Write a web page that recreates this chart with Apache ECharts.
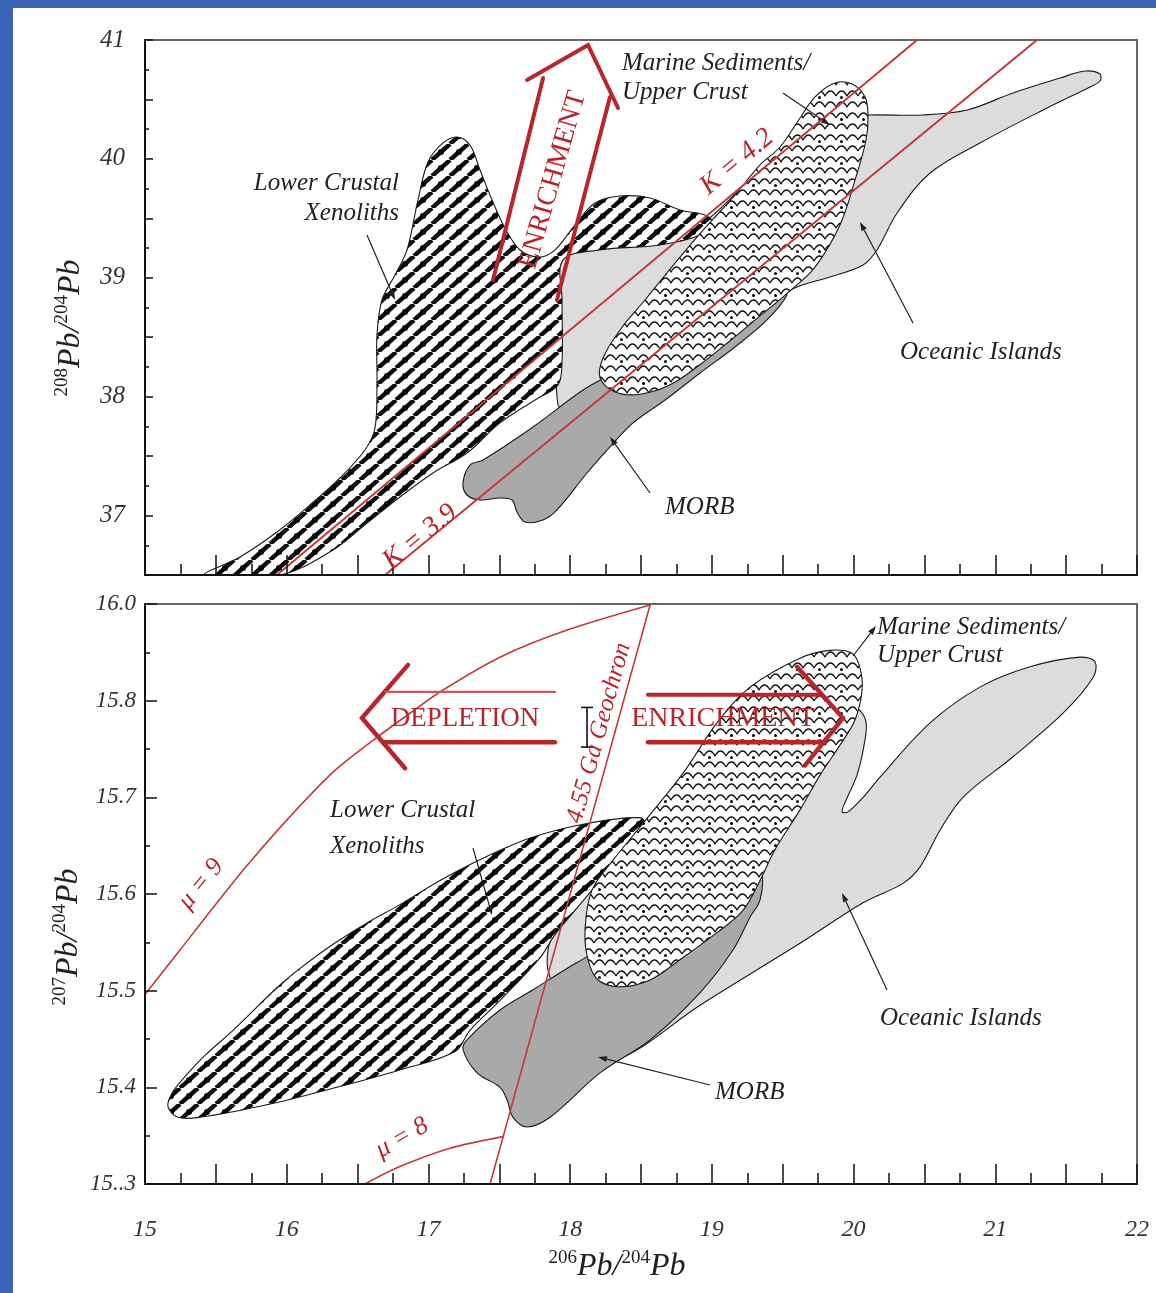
<!DOCTYPE html>
<html>
<head>
<meta charset="utf-8">
<script src="https://cdn.jsdelivr.net/npm/echarts/dist/echarts.min.js"></script>
<style>
  html, body { margin: 0; padding: 0; background: #fff; }
  #chart { width: 1156px; height: 1293px; }
</style>
</head>
<body>
<div id="chart"></div>
<script>
// ---------- tick labels ----------
const xTickLabels = ['15', '16', '17', '18', '19', '20', '21', '22'];
const yTickLabels208 = ['37', '38', '39', '40', '41'];
const yTickLabels207 = ['15..3', '15.4', '15.5', '15.6', '15.7', '15.8', '16.0'];

// ---------- 208Pb/204Pb vs 206Pb/204Pb fields ----------
const lcx208 = [
  [15.423, 36.500], [15.670, 36.651], [15.931, 36.862], [16.164, 37.089], [16.376, 37.316],
  [16.552, 37.551], [16.623, 37.737], [16.637, 38.140], [16.637, 38.519], [16.672, 38.813],
  [16.764, 39.023], [16.849, 39.234], [16.926, 39.654], [16.997, 39.974], [17.103, 40.134],
  [17.202, 40.184], [17.293, 40.117], [17.364, 39.907], [17.449, 39.654], [17.540, 39.419],
  [17.646, 39.234], [17.787, 39.175], [17.893, 39.234], [18.034, 39.444], [18.175, 39.629],
  [18.352, 39.688], [18.564, 39.671], [18.775, 39.570], [18.952, 39.528], [19.001, 39.469],
  [18.917, 39.360], [18.634, 39.276], [18.211, 39.234], [17.950, 39.150], [17.943, 38.813],
  [17.943, 38.308], [17.914, 38.098], [17.752, 37.972], [17.505, 37.779], [17.272, 37.526],
  [17.032, 37.358], [16.799, 37.156], [16.567, 36.937], [16.327, 36.710], [15.953, 36.500]
];
const sed208 = [
  [18.211, 38.157], [18.232, 38.325], [18.352, 38.561], [18.528, 38.813], [18.740, 39.124],
  [18.952, 39.419], [19.163, 39.696], [19.340, 39.949], [19.481, 40.100], [19.622, 40.344],
  [19.728, 40.521], [19.869, 40.638], [19.989, 40.630], [20.081, 40.521], [20.102, 40.369],
  [20.088, 40.159], [20.010, 39.822], [19.904, 39.444], [19.728, 39.090], [19.552, 38.890],
  [19.340, 38.680], [19.128, 38.470], [18.917, 38.270], [18.705, 38.100], [18.493, 38.020],
  [18.317, 38.039]
];
const morb208 = [
  [17.244, 37.274], [17.293, 37.425], [17.385, 37.467], [17.738, 37.745], [18.091, 38.056],
  [18.303, 38.199], [18.564, 38.393], [18.917, 38.578], [19.199, 38.729], [19.410, 38.855],
  [19.495, 38.906], [19.530, 38.855], [19.389, 38.645], [19.163, 38.418], [18.917, 38.199],
  [18.670, 37.972], [18.444, 37.779], [18.281, 37.577], [18.119, 37.358], [17.907, 37.047],
  [17.809, 36.963], [17.682, 36.946], [17.625, 37.030], [17.590, 37.131], [17.505, 37.148],
  [17.364, 37.131], [17.272, 37.173]
];
const oib208 = [
  [17.950, 39.166], [18.211, 39.259], [18.564, 39.301], [18.917, 39.444], [19.340, 39.907],
  [19.834, 40.344], [20.102, 40.369], [20.490, 40.369], [20.801, 40.411], [21.125, 40.554],
  [21.457, 40.680], [21.633, 40.739], [21.739, 40.714], [21.739, 40.655], [21.669, 40.605],
  [21.365, 40.428], [20.892, 40.134], [20.540, 39.881], [20.307, 39.545], [20.165, 39.234],
  [20.067, 39.108], [19.834, 39.007], [19.601, 38.922], [19.340, 38.754], [18.917, 38.494],
  [18.493, 38.241], [18.211, 38.073], [18.034, 37.972], [17.914, 37.930], [17.928, 38.813]
];
// Th/U reference lines (kappa)
const kappa42 = [[15.931, 36.5], [20.448, 41.0]];
const kappa39 = [[16.694, 36.5], [21.294, 41.0]];
// enrichment arrow
const enrich208Left = [[17.456, 38.981], [17.809, 40.680]];
const enrich208Head = [[17.696, 40.664], [18.126, 40.958], [18.338, 40.428]];
const enrich208Right = [[18.281, 40.521], [17.907, 38.813]];

// ---------- 207Pb/204Pb vs 206Pb/204Pb fields ----------
const lcx207 = [
  [15.162, 15.380], [15.191, 15.394], [15.282, 15.411], [15.423, 15.433], [15.621, 15.459],
  [15.931, 15.503], [16.094, 15.523], [16.327, 15.548], [16.567, 15.570], [16.799, 15.589],
  [17.082, 15.614], [17.385, 15.637], [17.717, 15.658], [18.119, 15.673], [18.493, 15.679],
  [18.528, 15.671], [18.387, 15.646], [18.211, 15.614], [18.034, 15.583], [17.893, 15.558],
  [17.787, 15.534], [17.505, 15.490], [17.293, 15.459], [17.188, 15.437], [16.799, 15.418],
  [16.327, 15.399], [15.861, 15.382], [15.388, 15.369], [15.233, 15.369]
];
const sed207 = [
  [18.126, 15.532], [18.105, 15.563], [18.154, 15.604], [18.303, 15.635], [18.514, 15.673],
  [18.797, 15.725], [19.036, 15.777], [19.269, 15.814], [19.622, 15.844], [19.834, 15.852],
  [19.989, 15.849], [20.045, 15.834], [20.060, 15.811], [20.010, 15.780], [19.904, 15.754],
  [19.763, 15.723], [19.622, 15.687], [19.446, 15.646], [19.340, 15.614], [19.220, 15.583],
  [19.036, 15.560], [18.775, 15.532], [18.564, 15.511], [18.352, 15.504], [18.197, 15.511]
];
const morb207 = [
  [17.244, 15.439], [17.272, 15.449], [17.505, 15.480], [17.738, 15.501], [17.978, 15.523],
  [18.140, 15.537], [18.352, 15.558], [18.917, 15.594], [19.305, 15.627], [19.354, 15.623],
  [19.340, 15.594], [19.269, 15.576], [19.149, 15.542], [18.917, 15.498], [18.564, 15.449],
  [18.211, 15.415], [17.858, 15.369], [17.696, 15.359], [17.597, 15.369], [17.555, 15.387],
  [17.505, 15.400], [17.343, 15.415]
];
const oib207 = [
  [17.844, 15.542], [17.893, 15.568], [18.070, 15.599], [18.352, 15.635], [18.917, 15.697],
  [19.552, 15.739], [19.834, 15.757], [19.961, 15.784], [20.031, 15.791], [20.088, 15.778],
  [20.074, 15.754], [20.024, 15.723], [19.947, 15.697], [19.918, 15.685], [19.961, 15.685],
  [20.067, 15.700], [20.187, 15.721], [20.540, 15.777], [20.892, 15.814], [21.245, 15.835],
  [21.598, 15.845], [21.704, 15.840], [21.690, 15.824], [21.478, 15.787], [21.125, 15.742],
  [20.772, 15.700], [20.610, 15.666], [20.469, 15.628], [20.349, 15.611], [20.067, 15.591],
  [19.622, 15.549], [18.917, 15.485], [18.352, 15.430], [18.211, 15.444], [17.928, 15.490],
  [17.844, 15.521]
];
// growth curves and geochron
const mu9 = [
  [15.000, 15.496], [15.247, 15.542], [15.508, 15.591], [15.741, 15.633], [16.023, 15.680],
  [16.327, 15.726], [16.609, 15.759], [16.870, 15.787], [17.103, 15.811], [17.505, 15.845],
  [17.978, 15.873], [18.564, 15.899]
];
const mu8 = [[16.552, 15.300], [16.799, 15.318], [17.152, 15.337], [17.526, 15.349]];
const geochron = [[18.564, 15.899], [17.435, 15.300]];
// depletion / enrichment arrows
const depletionHead = [[16.856, 15.837], [16.531, 15.782], [16.835, 15.730]];
const depletionUpper = [[16.694, 15.809], [17.893, 15.809]];
const depletionLower = [[16.679, 15.757], [17.893, 15.757]];
const enrich207Head = [[19.601, 15.835], [19.925, 15.782], [19.657, 15.733]];
const enrich207Upper = [[18.549, 15.806], [19.777, 15.806]];
const enrich207Lower = [[18.549, 15.757], [19.791, 15.757]];
// analytical uncertainty bar: [x, yLow, yHigh]
const errorBar207 = [[18.119, 15.752, 15.793]];

// ---------- fill patterns ----------
function hatchPattern() {
  const w = 18, h = 16;
  const c = document.createElement('canvas');
  c.width = w; c.height = h;
  const g = c.getContext('2d');
  g.fillStyle = '#fff'; g.fillRect(0, 0, w, h);
  g.strokeStyle = '#0d0d0d'; g.lineWidth = 4.4;
  for (const k of [-1, 0, 1]) {
    g.beginPath(); g.moveTo(k * w, h); g.lineTo(k * w + w, 0); g.stroke();
  }
  g.fillStyle = '#000';
  g.beginPath(); g.arc(w / 2, h / 2, 3, 0, Math.PI * 2); g.fill();
  return c;
}
function wavePattern() {
  const w = 22, h = 22;
  const c = document.createElement('canvas');
  c.width = w; c.height = h;
  const g = c.getContext('2d');
  g.fillStyle = '#fff'; g.fillRect(0, 0, w, h);
  g.strokeStyle = '#111'; g.lineWidth = 1.3; g.lineJoin = 'round';
  for (const oy of [0, 11]) {
    g.beginPath();
    g.moveTo(0, oy + 8);
    for (let x = 0; x < w; x += 11) {
      g.quadraticCurveTo(x + 2.75, oy + 3, x + 5.5, oy + 3);
      g.quadraticCurveTo(x + 8.25, oy + 3, x + 11, oy + 8);
    }
    g.stroke();
  }
  g.fillStyle = '#000';
  g.beginPath(); g.arc(5.5, 9.5, 1.5, 0, Math.PI * 2); g.fill();
  return c;
}
const HATCH = { image: hatchPattern(), repeat: 'repeat' };
const WAVE = { image: wavePattern(), repeat: 'repeat' };

const RED = '#b8262c';
const THIN_RED = '#c43a3a';
const SERIF = "'Liberation Serif', 'DejaVu Serif', serif";

// ---------- series helpers ----------
function region(name, pts, axis, fill, z) {
  return {
    type: 'custom', name, xAxisIndex: axis, yAxisIndex: axis, z, clip: true, silent: true,
    data: pts,
    renderItem(params, api) {
      if (params.dataIndex !== 0) return null;
      return {
        type: 'polygon',
        shape: { points: pts.map(p => api.coord(p)), smooth: 0.35 },
        style: { fill, stroke: '#1a1a1a', lineWidth: 1.1 }
      };
    }
  };
}
function path(pts, axis, color, width, z, smooth) {
  return {
    type: 'line', xAxisIndex: axis, yAxisIndex: axis, data: pts, z,
    showSymbol: false, symbol: 'none', smooth: smooth || false, silent: true,
    lineStyle: { color, width, cap: 'round', join: 'miter' }
  };
}
const errorSeries = {
  type: 'custom', xAxisIndex: 1, yAxisIndex: 1, z: 9, silent: true, data: errorBar207,
  renderItem(params, api) {
    const lo = api.coord([api.value(0), api.value(1)]);
    const hi = api.coord([api.value(0), api.value(2)]);
    const st = { stroke: '#111', lineWidth: 1.6 };
    return {
      type: 'group', children: [
        { type: 'line', shape: { x1: lo[0], y1: lo[1], x2: hi[0], y2: hi[1] }, style: st },
        { type: 'line', shape: { x1: lo[0] - 6, y1: lo[1], x2: lo[0] + 6, y2: lo[1] }, style: st },
        { type: 'line', shape: { x1: hi[0] - 6, y1: hi[1], x2: hi[0] + 6, y2: hi[1] }, style: st }
      ]
    };
  }
};

// ---------- annotation helpers ----------
function text(str, x, y, o) {
  o = o || {};
  return {
    type: 'text', x, y, z: 100, rotation: (o.rot || 0) * Math.PI / 180, silent: true,
    style: {
      text: str, fill: o.color || '#222', fontSize: o.size || 25, fontFamily: SERIF,
      fontStyle: o.upright ? 'normal' : 'italic',
      align: o.align || 'left', textAlign: o.align || 'left',
      verticalAlign: 'middle', textVerticalAlign: 'middle'
    }
  };
}
function leader(x1, y1, x2, y2) {
  const dx = x2 - x1, dy = y2 - y1, L = Math.hypot(dx, dy);
  const ux = dx / L, uy = dy / L, s = 9, hw = 3;
  const bx = x2 - ux * s, by = y2 - uy * s;
  return [
    { type: 'line', z: 100, silent: true, shape: { x1, y1, x2: bx, y2: by }, style: { stroke: '#222', lineWidth: 1.2 } },
    { type: 'polygon', z: 100, silent: true,
      shape: { points: [[x2, y2], [bx - uy * hw, by + ux * hw], [bx + uy * hw, by - ux * hw]] },
      style: { fill: '#222' } }
  ];
}
function isoTitle(top, bottom, x, y, rot) {
  return {
    type: 'text', x, y, z: 100, rotation: rot * Math.PI / 180, silent: true,
    style: {
      text: '{s|' + top + '}{m|Pb/}{s|' + bottom + '}{m|Pb}',
      align: 'center', textAlign: 'center', verticalAlign: 'middle', textVerticalAlign: 'middle',
      rich: {
        s: { fontSize: 19, fontFamily: SERIF, fill: '#222', verticalAlign: 'top', lineHeight: 34 },
        m: { fontSize: 32, fontFamily: SERIF, fontStyle: 'italic', fill: '#222', verticalAlign: 'bottom', lineHeight: 34 }
      }
    }
  };
}

// ---------- axes ----------
const tickStyle = { color: '#111', width: 1.5 };
function xAxisCfg(idx, labels) {
  return {
    gridIndex: idx, type: 'value', min: 15, max: 22, interval: 0.5, z: 10,
    axisLine: { show: true, lineStyle: { color: '#111', width: 2 } },
    axisTick: { show: true, inside: true, length: 20, lineStyle: tickStyle },
    minorTick: { show: true, splitNumber: 2, length: 11, lineStyle: tickStyle },
    splitLine: { show: false }, minorSplitLine: { show: false },
    axisLabel: labels ? {
      show: true, margin: 34, fontSize: 24, fontStyle: 'italic', fontFamily: SERIF, color: '#333',
      formatter: v => Math.abs(v - Math.round(v)) < 1e-6 ? xTickLabels[Math.round(v) - 15] : ''
    } : { show: false }
  };
}

const option = {
  animation: false,
  backgroundColor: '#fff',
  grid: [
    { left: 145, top: 40, width: 992, height: 535, show: true, borderColor: '#666', borderWidth: 2, backgroundColor: 'transparent' },
    { left: 145, top: 604, width: 992, height: 580, show: true, borderColor: '#666', borderWidth: 2, backgroundColor: 'transparent' }
  ],
  xAxis: [xAxisCfg(0, false), xAxisCfg(1, true)],
  yAxis: [
    {
      gridIndex: 0, type: 'value', min: 36.5, max: 41, interval: 0.5, z: 10,
      axisLine: { show: true, lineStyle: { color: '#111', width: 2 } },
      axisTick: { show: true, inside: true, length: 8, lineStyle: tickStyle },
      minorTick: { show: true, splitNumber: 2, length: 4, lineStyle: tickStyle },
      splitLine: { show: false }, minorSplitLine: { show: false },
      axisLabel: {
        margin: 20, fontSize: 25, fontStyle: 'italic', fontFamily: SERIF, color: '#333',
        formatter: v => Math.abs(v - Math.round(v)) < 1e-6 ? yTickLabels208[Math.round(v) - 37] : ''
      }
    },
    {
      gridIndex: 1, type: 'value', min: 15.3, max: 15.9, interval: 0.1, z: 10,
      axisLine: { show: true, lineStyle: { color: '#111', width: 2 } },
      axisTick: { show: true, inside: true, length: 12, lineStyle: tickStyle },
      minorTick: { show: true, splitNumber: 2, length: 5, lineStyle: tickStyle },
      splitLine: { show: false }, minorSplitLine: { show: false },
      axisLabel: {
        margin: 9, fontSize: 23, fontStyle: 'italic', fontFamily: SERIF, color: '#333',
        formatter: v => yTickLabels207[Math.round((v - 15.3) / 0.1)]
      }
    }
  ],
  series: [
    // 208 panel
    region('Oceanic Islands', oib208, 0, '#dcdcdc', 2),
    region('Lower Crustal Xenoliths', lcx208, 0, HATCH, 3),
    region('MORB', morb208, 0, '#a9a9a9', 4),
    region('Marine Sediments/Upper Crust', sed208, 0, WAVE, 5),
    path(kappa42, 0, THIN_RED, 2, 6),
    path(kappa39, 0, THIN_RED, 2, 6),
    path(enrich208Left, 0, RED, 4, 7),
    path(enrich208Head, 0, RED, 4, 7),
    path(enrich208Right, 0, RED, 4, 7),
    // 207 panel
    region('Oceanic Islands', oib207, 1, '#dcdcdc', 2),
    region('Lower Crustal Xenoliths', lcx207, 1, HATCH, 3),
    region('MORB', morb207, 1, '#a9a9a9', 4),
    region('Marine Sediments/Upper Crust', sed207, 1, WAVE, 5),
    path(mu9, 1, THIN_RED, 1.6, 6, 0.3),
    path(mu8, 1, THIN_RED, 1.6, 6, 0.3),
    path(geochron, 1, THIN_RED, 1.6, 6),
    path(depletionHead, 1, RED, 4.5, 7),
    path(depletionUpper, 1, '#c65a5a', 2.2, 7),
    path(depletionLower, 1, RED, 4.5, 7),
    path(enrich207Head, 1, RED, 4.5, 7),
    path(enrich207Upper, 1, RED, 4, 7),
    path(enrich207Lower, 1, RED, 4.5, 7),
    errorSeries
  ],
  graphic: [
    // frame
    { type: 'rect', z: 200, silent: true, shape: { x: 0, y: 0, width: 13, height: 1293 }, style: { fill: '#3b63b4' } },
    { type: 'rect', z: 200, silent: true, shape: { x: 0, y: 0, width: 1156, height: 8 }, style: { fill: '#3b63b4' } },
    // axis titles
    isoTitle('208', '204', 70, 328, 90),
    isoTitle('207', '204', 68, 937, 90),
    isoTitle('206', '204', 617, 1266, 0),
    // upper panel labels
    text('Lower Crustal', 399, 183, { align: 'right' }),
    text('Xenoliths', 399, 213, { align: 'right' }),
    text('Marine Sediments/', 622, 63),
    text('Upper Crust', 622, 92),
    text('Oceanic Islands', 900, 352),
    text('MORB', 665, 507),
    text('ENRICHMENT', 553, 180, { rot: 74, color: RED, upright: true, size: 28, align: 'center' }),
    text('K = 4.2', 737, 162, { rot: 40, color: RED, size: 28, align: 'center' }),
    text('K = 3.9', 420, 537, { rot: 39, color: RED, size: 28, align: 'center' }),
    ...leader(367, 235, 395, 300),
    ...leader(783, 93, 830, 125),
    ...leader(913, 323, 860, 222),
    ...leader(650, 493, 610, 437),
    // lower panel labels
    text('Marine Sediments/', 877, 627),
    text('Upper Crust', 877, 655),
    text('Lower Crustal', 330, 810),
    text('Xenoliths', 330, 846),
    text('Oceanic Islands', 880, 1018),
    text('MORB', 715, 1092),
    text('DEPLETION', 465, 719, { color: RED, upright: true, size: 27, align: 'center' }),
    text('ENRICHMENT', 723, 719, { color: RED, upright: true, size: 28, align: 'center' }),
    text('4.55 Ga Geochron', 599, 733, { rot: 74.6, color: RED, size: 25, align: 'center' }),
    text('\u03bc = 9', 201, 884, { rot: 51, color: RED, size: 26, align: 'center' }),
    text('\u03bc = 8', 402, 1138, { rot: 30, color: RED, size: 26, align: 'center' }),
    ...leader(853, 656, 876, 626),
    ...leader(473, 848, 492, 915),
    ...leader(887, 990, 842, 893),
    ...leader(710, 1085, 598, 1057)
  ]
};

const chart = echarts.init(document.getElementById('chart'), null, { renderer: 'canvas' });
chart.setOption(option);
</script>
</body>
</html>
